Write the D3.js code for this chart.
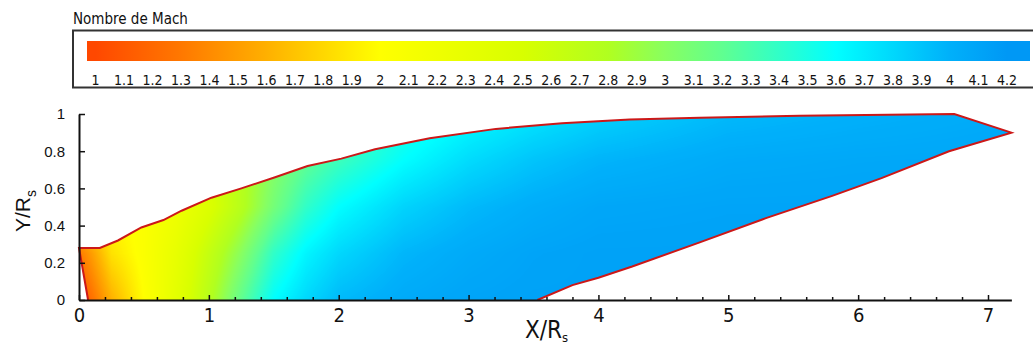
<!DOCTYPE html>
<html>
<head>
<meta charset="utf-8">
<script src="https://cdn.jsdelivr.net/npm/d3@7"></script>
<style>
  body { margin: 0; background: #fff; }
  svg { display: block; }
</style>
</head>
<body>
<svg id="chart" width="1033" height="349"></svg>
<script>
// colour bar
const legendTitle = "Nombre de Mach";
const legendTicks = [1, 1.1, 1.2, 1.3, 1.4, 1.5, 1.6, 1.7, 1.8, 1.9, 2, 2.1, 2.2, 2.3, 2.4, 2.5, 2.6, 2.7, 2.8, 2.9,
                     3, 3.1, 3.2, 3.3, 3.4, 3.5, 3.6, 3.7, 3.8, 3.9, 4, 4.1, 4.2];
const colorStops = [1, 1.3, 1.6, 2.0, 2.5, 2.8, 3.0, 3.2, 3.4, 3.6, 4.0, 4.2];
const colorValues = ['#ff4800', '#ff7800', '#ffb000', '#ffff00', '#d8ff00', '#b0ff20',
                     '#88ff60', '#60ff90', '#30ffc8', '#00ffff', '#00b0fa', '#0098f5'];

// axes
const xTicks = [0, 1, 2, 3, 4, 5, 6, 7];
const yTicks = [0, 0.2, 0.4, 0.6, 0.8, 1];

// nozzle contour (X/Rs, Y/Rs)
const inletX = [0.07, 0];
const inletY = [0, 0.28];
const upperX = [0, 0.16, 0.3, 0.48, 0.65, 0.79, 1.02, 1.25, 1.51, 1.76, 2.02, 2.28, 2.7, 3.21, 3.72, 4.24, 4.78, 5.55, 6.74, 7.18];
const upperY = [0.28, 0.28, 0.32, 0.39, 0.43, 0.48, 0.55, 0.6, 0.66, 0.72, 0.76, 0.81, 0.87, 0.92, 0.95, 0.97, 0.98, 0.99, 1.0, 0.9];
const lowerX = [7.18, 6.7, 6.18, 5.8, 5.29, 4.78, 4.26, 4.0, 3.8, 3.53];
const lowerY = [0.9, 0.8, 0.655, 0.56, 0.44, 0.31, 0.18, 0.12, 0.08, 0];

// Mach number read at grid nodes
const gridX = [0, 0.1, 0.25, 0.5, 0.75, 1, 1.25, 1.5, 1.75, 2, 2.5, 3, 3.5, 4, 5, 6, 7.25];
const gridY = [0, 0.25, 0.5, 0.75, 1];
const machY0   = [1.05, 1.25, 1.6, 2.0, 2.35, 2.75, 3.2, 3.6, 3.8, 3.95, 4.05, 4.1, 4.12, 4.12, 4.12, 4.12, 4.12];
const machY025 = [1.3, 1.5, 1.85, 2.05, 2.3, 2.65, 3.0, 3.4, 3.65, 3.8, 3.97, 4.05, 4.1, 4.12, 4.12, 4.12, 4.12];
const machY05  = [1.9, 2.0, 2.0, 2.05, 2.2, 2.45, 2.75, 3.1, 3.4, 3.6, 3.82, 3.95, 4.03, 4.08, 4.1, 4.1, 4.1];
const machY075 = [2.0, 2.0, 2.0, 2.1, 2.3, 2.5, 2.75, 3.0, 3.2, 3.35, 3.6, 3.78, 3.9, 3.98, 4.05, 4.07, 4.08];
const machY1   = [2.0, 2.0, 2.0, 2.05, 2.2, 2.4, 2.6, 2.8, 3.0, 3.2, 3.45, 3.6, 3.72, 3.82, 3.95, 4.0, 4.05];

const narrow = "'Liberation Sans Narrow', 'Arial Narrow', 'DejaVu Sans Condensed', sans-serif";
const regular = "'Liberation Sans', Arial, sans-serif";

const svg = d3.select('#chart');
const defs = svg.append('defs');

const color = d3.scaleLinear().domain(colorStops).range(colorValues)
  .interpolate(d3.interpolateRgb).clamp(true);

// ---------- colour bar ----------
const cx = d3.scaleLinear().domain([1, 4.2]).range([95.5, 1007]);
const barX0 = 87, barX1 = 1030;

svg.append('text')
  .attr('x', 73).attr('y', 24)
  .style('font', '15px ' + narrow)
  .attr('fill', '#111')
  .text(legendTitle);

svg.append('rect')
  .attr('x', 73).attr('y', 30.5)
  .attr('width', 970).attr('height', 57)
  .attr('fill', 'none').attr('stroke', '#333').attr('stroke-width', 2);

const grad = defs.append('linearGradient')
  .attr('id', 'barGrad')
  .attr('gradientUnits', 'userSpaceOnUse')
  .attr('x1', barX0).attr('x2', barX1).attr('y1', 0).attr('y2', 0);
grad.selectAll('stop')
  .data(colorStops)
  .enter().append('stop')
  .attr('offset', d => (cx(d) - barX0) / (barX1 - barX0))
  .attr('stop-color', d => color(d));

svg.append('rect')
  .attr('x', barX0).attr('y', 41)
  .attr('width', barX1 - barX0).attr('height', 20)
  .attr('fill', 'url(#barGrad)');

svg.append('g').selectAll('text')
  .data(legendTicks)
  .enter().append('text')
  .attr('x', d => cx(d))
  .attr('y', 85)
  .attr('text-anchor', 'middle')
  .style('font', '14px ' + narrow)
  .attr('fill', '#111')
  .text(d => d);

// ---------- plot ----------
const x = d3.scaleLinear().domain([0, 7]).range([79, 988]);
const y = d3.scaleLinear().domain([0, 1]).range([300, 114]);
const xMax = 7.18;

// Mach field raster (bilinear between grid nodes), clipped to the nozzle
const machRows = [machY0, machY025, machY05, machY075, machY1];
function machAt(px, py) {
  const i = Math.max(0, Math.min(gridX.length - 2, d3.bisectRight(gridX, px) - 1));
  const j = Math.max(0, Math.min(gridY.length - 2, d3.bisectRight(gridY, py) - 1));
  const t = Math.max(0, Math.min(1, (px - gridX[i]) / (gridX[i + 1] - gridX[i])));
  const u = Math.max(0, Math.min(1, (py - gridY[j]) / (gridY[j + 1] - gridY[j])));
  const a = machRows[j][i] * (1 - t) + machRows[j][i + 1] * t;
  const b = machRows[j + 1][i] * (1 - t) + machRows[j + 1][i + 1] * t;
  return a * (1 - u) + b * u;
}

const lut = d3.range(512).map(k => d3.rgb(color(1 + 3.2 * k / 511)));
const fieldLeft = 79, fieldTop = 112;
const fieldW = Math.ceil(x(xMax)) - fieldLeft + 2, fieldH = 300 - fieldTop;
const canvas = document.createElement('canvas');
canvas.width = fieldW; canvas.height = fieldH;
const ctx = canvas.getContext('2d');
const img = ctx.createImageData(fieldW, fieldH);
for (let j = 0; j < fieldH; j++) {
  const vy = y.invert(fieldTop + j + 0.5);
  for (let i = 0; i < fieldW; i++) {
    const vx = x.invert(fieldLeft + i + 0.5);
    const m = machAt(vx, vy);
    const k = Math.max(0, Math.min(511, Math.round((m - 1) / 3.2 * 511)));
    const c = lut[k];
    const o = (j * fieldW + i) * 4;
    img.data[o] = c.r; img.data[o + 1] = c.g; img.data[o + 2] = c.b; img.data[o + 3] = 255;
  }
}
ctx.putImageData(img, 0, 0);

const inlet = inletX.map((d, i) => [d, inletY[i]]);
const upper = upperX.map((d, i) => [d, upperY[i]]);
const lower = lowerX.map((d, i) => [d, lowerY[i]]);
const outline = inlet.concat(upper.slice(1), lower.slice(1));

const line = d3.line().x(d => x(d[0])).y(d => y(d[1]));

defs.append('clipPath').attr('id', 'nozzle')
  .append('path').attr('d', line(outline) + 'Z');

svg.append('image')
  .attr('href', canvas.toDataURL())
  .attr('x', fieldLeft).attr('y', fieldTop)
  .attr('width', fieldW).attr('height', fieldH)
  .attr('clip-path', 'url(#nozzle)');

svg.append('path')
  .attr('d', line(outline))
  .attr('fill', 'none')
  .attr('stroke', '#cc1818')
  .attr('stroke-width', 2);

// x axis
const xAxisScale = x.copy().domain([0, xMax]).range([x(0), x(xMax)]);
svg.append('g')
  .attr('transform', 'translate(0,300)')
  .call(d3.axisBottom(xAxisScale)
    .tickValues(d3.range(0.2, xMax, 0.2).filter(v => Math.abs(v - Math.round(v)) > 0.01))
    .tickSize(-3).tickSizeOuter(0).tickFormat(''))
  .call(g => g.select('.domain').remove());

const gx = svg.append('g')
  .attr('transform', 'translate(0,300)')
  .call(d3.axisBottom(xAxisScale).tickValues(xTicks).tickSize(-5).tickSizeOuter(0).tickPadding(8));
gx.selectAll('text').style('font', '20px ' + narrow).attr('fill', '#111');

// y axis
const gy = svg.append('g')
  .attr('transform', 'translate(79,0)')
  .call(d3.axisLeft(y).tickValues(yTicks).tickSize(-6).tickSizeOuter(0).tickPadding(14)
    .tickFormat(d => d));
gy.selectAll('text').style('font', '15px ' + regular).attr('fill', '#111');

svg.selectAll('.domain').attr('stroke', '#111').attr('stroke-width', 2);
svg.selectAll('.tick line').attr('stroke', '#111').attr('stroke-width', 1.5);

// axis titles
const xt = svg.append('text')
  .attr('x', 525).attr('y', 338)
  .style('font', '24px ' + narrow)
  .attr('fill', '#111');
xt.append('tspan').text('X/R');
xt.append('tspan').attr('dy', 4).style('font-size', '13px').text('s');

const yt = svg.append('text')
  .attr('transform', 'translate(30,232) rotate(-90)')
  .style('font', '21px ' + regular)
  .attr('fill', '#111');
yt.append('tspan').text('Y/R');
yt.append('tspan').attr('dy', 6).style('font-size', '14px').text('s');
</script>
</body>
</html>
